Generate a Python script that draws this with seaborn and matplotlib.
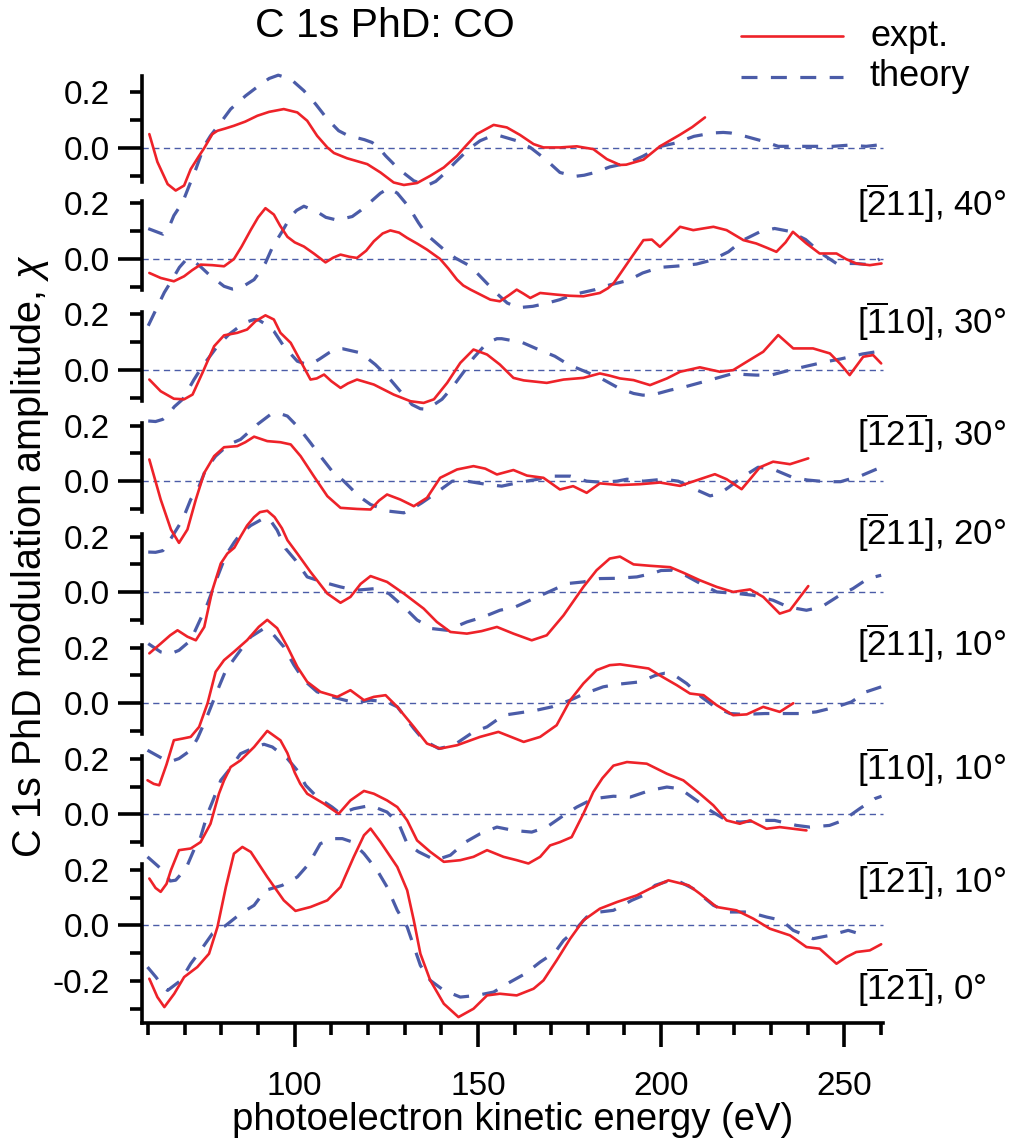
import matplotlib
matplotlib.use("Agg")
import matplotlib.pyplot as plt
from matplotlib.lines import Line2D
import pandas as pd
import seaborn as sns

# C 1s photoelectron diffraction of CO: (kinetic energy / eV, chi) pairs per panel
p1_expt = [(60.3, 0.05), (62.5, -0.05), (65.3, -0.13), (67.5, -0.153), (69.8, -0.135), (71.6, -0.076),
           (73.9, -0.028), (75.3, 0.0), (77.5, 0.05), (78.9, 0.062), (81, 0.07), (83.4, 0.08), (86.5, 0.095),
           (89.8, 0.116), (93, 0.13), (97, 0.14), (100.7, 0.128), (103.4, 0.098), (106.1, 0.044), (108.9, 0.002),
           (110.7, -0.018), (114.3, -0.037), (119.8, -0.058), (123.4, -0.088), (127, -0.124), (129.8, -0.133),
           (133.4, -0.126), (137, -0.1), (140.7, -0.07), (144.3, -0.028), (146.6, 0.006), (149.7, 0.05),
           (154.3, 0.083), (157.9, 0.074), (161.5, 0.047), (165.2, 0.014), (167.9, 0.002), (172.4, 0.002),
           (177, 0.006), (181.5, -0.004), (185.2, -0.04), (188.8, -0.061), (190.5, -0.06), (195.2, -0.042),
           (199.7, 0.006), (205.2, 0.048), (208.5, 0.075), (212, 0.11)]
p1_theory = [(60, -0.29), (62, -0.3), (64, -0.31), (65.5, -0.29), (67, -0.243), (69.4, -0.195), (71.2, -0.135),
             (73, -0.076), (75.3, 0.008), (77, 0.044), (79.8, 0.092), (82.5, 0.14), (86.6, 0.188), (90.2, 0.224),
             (93, 0.25), (95.5, 0.262), (98.9, 0.248), (102.5, 0.206), (105.7, 0.158), (108.9, 0.104), (112, 0.062),
             (114.5, 0.045), (116.6, 0.038), (119, 0.03), (121.1, 0.02), (123, 0.0), (124.8, -0.028), (128.4, -0.076),
             (132.5, -0.118), (136.1, -0.135), (138.5, -0.12), (140.7, -0.094), (143.8, -0.052), (147.5, -0.004),
             (150.6, 0.026), (153.5, 0.042), (156, 0.044), (160.6, 0.026), (164.3, 0.002), (168.4, -0.04),
             (172.4, -0.088), (176.5, -0.102), (179, -0.098), (182, -0.088), (186, -0.068), (191, -0.054),
             (195, -0.03), (200, 0.006), (204, 0.018), (209, 0.042), (214, 0.054), (217, 0.056), (219, 0.054),
             (223, 0.042), (228, 0.024), (232, 0.006), (237.5, 0.006), (241.5, 0.006), (247, 0.006), (251, 0.01),
             (256, 0.006), (260, 0.012)]

p2_expt = [(60.3, -0.05), (63.4, -0.068), (67, -0.08), (69.8, -0.062), (72, -0.04), (74.3, -0.02), (77.5, -0.022),
           (80.7, -0.026), (83.4, 0.0), (85.5, 0.045), (88, 0.105), (90, 0.15), (92, 0.183), (94.3, 0.16), (96, 0.12),
           (98, 0.08), (100, 0.06), (102.5, 0.045), (105.2, 0.02), (108.4, -0.012), (110.5, 0.005), (112.5, 0.016),
           (115, 0.008), (117, 0.004), (119.5, 0.03), (121.6, 0.064), (124, 0.092), (126.1, 0.103), (128.5, 0.095),
           (130.7, 0.076), (133.5, 0.055), (136.1, 0.034), (139.7, 0.0), (142, -0.035), (144.3, -0.074),
           (146, -0.095), (148, -0.11), (151, -0.13), (153.4, -0.146), (156, -0.152), (158.5, -0.13),
           (160.6, -0.11), (162.5, -0.125), (164.3, -0.14), (167, -0.122), (171.5, -0.128), (175, -0.132),
           (178.8, -0.134), (183.3, -0.122), (185.5, -0.105), (187, -0.088), (189, -0.05), (191.6, 0.0),
           (195.2, 0.068), (197.5, 0.07), (199.7, 0.044), (202.5, 0.08), (205.2, 0.116), (208.8, 0.104),
           (211.5, 0.11), (214.3, 0.116), (217.9, 0.104), (222.5, 0.068), (226, 0.056), (229, 0.04), (231.5, 0.026),
           (234, 0.06), (236, 0.098), (239.7, 0.056), (243.3, 0.02), (247.9, 0.02), (250.5, 0.0), (253.3, -0.016),
           (257, -0.022), (260.2, -0.016)]
p2_theory = [(60, -0.24), (62, -0.185), (64.4, -0.12), (66.5, -0.075), (68.5, -0.03), (70.5, 0.0), (72.5, -0.008),
             (74.5, -0.03), (76.6, -0.056), (80.7, -0.098), (83, -0.108), (85.2, -0.104), (88.9, -0.074),
             (90.5, -0.045), (92, -0.014), (94, 0.045), (96.6, 0.1), (98.9, 0.153), (100.5, 0.175), (102.5, 0.19),
             (106.1, 0.17), (108.5, 0.15), (111.6, 0.14), (115.7, 0.153), (118, 0.175), (119.8, 0.195),
             (123.4, 0.237), (125.7, 0.255), (128, 0.237), (131, 0.19), (133.8, 0.13), (136, 0.088), (140.2, 0.04),
             (143.8, 0.004), (148, -0.026), (151.5, -0.074), (155, -0.122), (158, -0.158), (161, -0.175),
             (165, -0.17), (168.5, -0.16), (172.4, -0.146), (176, -0.128), (182, -0.11), (186, -0.093),
             (191, -0.077), (195, -0.05), (199.7, -0.03), (204.7, -0.025), (209.7, -0.018), (213.8, -0.004),
             (218.4, 0.026), (222.4, 0.068), (227, 0.098), (231, 0.11), (235, 0.1), (239.5, 0.07), (243.8, 0.02),
             (247.9, -0.016), (253, -0.016), (257, -0.02), (259.7, 0.0)]

p3_expt = [(60.3, -0.034), (63.4, -0.076), (67, -0.103), (69.8, -0.105), (72.1, -0.088), (74.8, -0.01),
           (78, 0.086), (80.7, 0.125), (84.3, 0.134), (87, 0.146), (89.3, 0.176), (92, 0.197), (94.3, 0.182),
           (96.1, 0.134), (98.9, 0.098), (101.6, 0.032), (104.3, -0.034), (106, -0.03), (108, -0.016), (110, -0.04),
           (112.5, -0.064), (114.5, -0.048), (117, -0.034), (121.6, -0.052), (127, -0.088), (131.6, -0.112),
           (135.2, -0.118), (138, -0.105), (141.6, -0.046), (145.2, 0.026), (148.8, 0.074), (152.5, 0.056),
           (156, 0.02), (159.7, -0.028), (162.5, -0.037), (168.8, -0.046), (173.4, -0.034), (178.8, -0.028),
           (183.3, -0.012), (186, -0.02), (188.8, -0.03), (192.5, -0.036), (197, -0.054), (201.6, -0.03),
           (205.2, -0.006), (210.6, 0.01), (216.1, -0.006), (219.7, 0.0), (223.4, 0.03), (227.9, 0.066),
           (232, 0.126), (236.1, 0.078), (241.5, 0.078), (246.1, 0.06), (248.8, 0.024), (251.5, -0.018),
           (255.2, 0.048), (257.9, 0.054), (260.1, 0.024)]
p3_theory = [(60, -0.183), (62, -0.185), (64, -0.177), (65.5, -0.16), (67.1, -0.132), (69.4, -0.105),
             (72.5, -0.034), (74.8, 0.014), (78.9, 0.086), (82, 0.128), (86.2, 0.17), (88.9, 0.182), (90.2, 0.18),
             (92, 0.165), (94.3, 0.14), (97, 0.086), (100.7, 0.032), (102.5, 0.024), (104.3, 0.02), (106.8, 0.04),
             (109.3, 0.062), (111.6, 0.077), (113, 0.077), (118, 0.062), (122, 0.02), (125.7, -0.028),
             (128.8, -0.076), (132, -0.124), (134.3, -0.139), (136.1, -0.141), (140.2, -0.105), (142.9, -0.064),
             (146.6, 0.002), (148.8, 0.044), (152.5, 0.098), (155.2, 0.113), (156.5, 0.113), (162, 0.1),
             (166, 0.077), (171, 0.05), (174.7, 0.02), (180.2, -0.01), (183.8, -0.031), (188.5, -0.065),
             (192.5, -0.084), (195, -0.09), (197.5, -0.09), (202.5, -0.072), (206.6, -0.06), (211.6, -0.042),
             (216.5, -0.024), (219.7, -0.012), (223, -0.016), (226, -0.018), (230, -0.018), (235.2, 0.0),
             (239.7, 0.014), (245, 0.03), (249, 0.04), (255, 0.058), (258.8, 0.066), (260.3, 0.068)]

p4_expt = [(60.3, 0.078), (63.4, -0.066), (66.2, -0.174), (68.4, -0.222), (70.7, -0.174), (73, -0.066),
           (75.3, 0.03), (78, 0.09), (80.7, 0.122), (84.3, 0.126), (86.5, 0.14), (88.9, 0.16), (92.5, 0.144),
           (96.1, 0.14), (98.9, 0.132), (101.6, 0.09), (105.2, 0.018), (108.9, -0.054), (112.5, -0.096),
           (117, -0.1), (120.7, -0.102), (123, -0.07), (125.2, -0.048), (128.8, -0.066), (132.5, -0.09),
           (136.1, -0.06), (139.7, 0.012), (144.3, 0.042), (148.8, 0.054), (152, 0.045), (155.2, 0.024),
           (159.7, 0.04), (163.4, 0.02), (167.9, 0.012), (172.4, -0.03), (176, -0.018), (179.7, -0.042),
           (183.3, -0.008), (188.8, -0.014), (194.3, -0.011), (199.7, -0.005), (205.2, -0.017), (210.6, 0.007),
           (214.7, 0.025), (217.9, 0.007), (222, -0.029), (224.3, 0.007), (227, 0.05), (230.6, 0.07),
           (235.2, 0.061), (240.2, 0.082)]
p4_theory = [(60, -0.255), (62, -0.256), (64, -0.25), (66.6, -0.198), (69.4, -0.138), (71.6, -0.066),
             (73.9, -0.018), (75.7, 0.042), (78.4, 0.09), (82, 0.132), (85.2, 0.15), (89.8, 0.204), (93.4, 0.24),
             (95.5, 0.245), (98, 0.234), (101.1, 0.192), (104.3, 0.138), (107, 0.09), (110.2, 0.036), (113.4, 0.0),
             (117.5, -0.054), (120.7, -0.084), (125.7, -0.108), (129.8, -0.114), (132, -0.1), (134.7, -0.078),
             (138, -0.048), (143, 0.0), (147, 0.0), (152.5, -0.012), (156.5, -0.018), (161.5, -0.004), (166, 0.006),
             (170.6, 0.018), (175.2, 0.018), (179.7, 0.0), (183.8, -0.004), (188, 0.0), (190.7, 0.007),
             (195.2, 0.0), (200.7, 0.007), (204.7, 0.0), (209.3, -0.029), (213.4, -0.053), (216, -0.045),
             (218.4, -0.023), (222, 0.013), (226.5, 0.05), (230.6, 0.043), (236, 0.013), (240, 0.004),
             (245, -0.002), (249, -0.002), (254.7, 0.02), (258.8, 0.043), (260.3, 0.05)]

p5_expt = [(60.3, -0.22), (63.4, -0.185), (66, -0.155), (68, -0.137), (70.7, -0.16), (73, -0.173),
           (75.3, -0.125), (77.5, 0.007), (79.8, 0.103), (81.6, 0.139), (83.5, 0.16), (85.2, 0.2), (87, 0.24),
           (88.9, 0.27), (90.5, 0.288), (92.5, 0.293), (94.5, 0.27), (96.5, 0.23), (98, 0.187), (100.7, 0.139),
           (104.3, 0.073), (108.9, -0.005), (112.5, -0.038), (115.2, -0.017), (118, 0.03), (120.7, 0.058),
           (125.2, 0.037), (129.8, -0.005), (135.2, -0.059), (138.8, -0.107), (142.5, -0.143), (147, -0.149),
           (151, -0.14), (155.2, -0.125), (159.7, -0.149), (164.7, -0.173), (168.8, -0.155), (173.4, -0.083),
           (178.8, 0.019), (182.4, 0.079), (186, 0.121), (188.8, 0.128), (192.5, 0.1), (197, 0.095),
           (202.5, 0.09), (206.1, 0.07), (210.6, 0.043), (215.2, 0.019), (219.7, 0.001), (224.3, 0.01),
           (227.9, -0.017), (232.4, -0.077), (235.2, -0.065), (240.2, 0.022)]
p5_theory = [(60, -0.185), (63.4, -0.215), (66, -0.222), (68.4, -0.209), (71.6, -0.173), (73.9, -0.107),
             (76.2, -0.041), (78.9, 0.055), (81.2, 0.133), (83.5, 0.18), (85.2, 0.21), (88, 0.24), (91, 0.262),
             (93, 0.265), (95.2, 0.223), (97.5, 0.157), (100.2, 0.115), (103.4, 0.055), (107.5, 0.037),
             (112.5, 0.019), (116.6, 0.007), (122, 0.013), (125.7, -0.005), (129.8, -0.053), (133.4, -0.1),
             (137.5, -0.131), (141.6, -0.137), (147, -0.107), (151.5, -0.089), (156, -0.065), (160.2, -0.053),
             (165.2, -0.023), (169.3, 0.001), (174.3, 0.031), (178.8, 0.037), (183.3, 0.049), (188, 0.05),
             (193.4, 0.055), (197.5, 0.067), (200, 0.078), (203, 0.079), (206.6, 0.061), (211.6, 0.025),
             (215.2, 0.001), (221, -0.005), (225.2, -0.011), (230.6, -0.029), (234.7, -0.053), (239.7, -0.065),
             (243.8, -0.053), (248.8, -0.011), (252.4, 0.013), (256.5, 0.049), (260.1, 0.061)]

p6_expt = [(59.8, -0.277), (61.5, -0.29), (63, -0.295), (65, -0.22), (67, -0.133), (69.4, -0.127),
           (71.6, -0.121), (73.9, -0.085), (76.2, 0.0), (78.4, 0.113), (80.7, 0.155), (83.4, 0.185), (87, 0.227),
           (90.2, 0.275), (92.5, 0.3), (95.2, 0.27), (98, 0.203), (100.7, 0.131), (103.4, 0.077), (107, 0.041),
           (111.6, 0.023), (115.2, 0.047), (118.9, 0.011), (121.6, 0.023), (124.8, 0.029), (128, -0.013),
           (132.5, -0.085), (136.1, -0.145), (139.7, -0.163), (144.3, -0.151), (150.6, -0.121), (155.6, -0.103),
           (157.9, -0.115), (162.5, -0.139), (167, -0.121), (171.5, -0.079), (175.2, 0.011), (178.8, 0.071),
           (182.4, 0.119), (186, 0.137), (188.8, 0.14), (192.5, 0.133), (196.6, 0.125), (199.7, 0.1),
           (204.3, 0.065), (207.9, 0.035), (211.6, 0.029), (215.2, -0.007), (219.7, -0.043), (223.4, -0.04),
           (227.9, -0.013), (232.4, -0.031), (236.1, 0.0)]
p6_theory = [(59.8, -0.169), (63.9, -0.199), (66, -0.21), (68.4, -0.199), (71.6, -0.169), (73.5, -0.125),
             (76, -0.05), (79.3, 0.059), (81.2, 0.119), (85.2, 0.191), (88, 0.239), (91.6, 0.269), (93.9, 0.251),
             (97, 0.203), (99.8, 0.137), (102.5, 0.083), (106.1, 0.041), (110.2, 0.023), (116.6, 0.001),
             (120.7, 0.011), (125.2, 0.005), (128, -0.013), (132.5, -0.091), (135.2, -0.133), (139.3, -0.163),
             (143.4, -0.151), (148.8, -0.103), (152.5, -0.085), (157, -0.043), (161.1, -0.035), (166, -0.025),
             (170.2, -0.013), (175.2, 0.011), (179.2, 0.035), (184.2, 0.059), (188, 0.068), (194.3, 0.077),
             (198.4, 0.1), (201, 0.108), (203, 0.107), (207, 0.071), (211, 0.023), (214.7, -0.013),
             (218.8, -0.037), (222.5, -0.04), (228.4, -0.037), (232.9, -0.037), (237.9, -0.037), (242.4, -0.031),
             (247.9, -0.013), (252, 0.005), (256, 0.041), (260.1, 0.059)]

p7_expt = [(60.3, -0.231), (62, -0.265), (63.4, -0.279), (65, -0.25), (66.2, -0.201), (68.4, -0.129),
           (71.6, -0.123), (74.3, -0.1), (77, -0.034), (79.3, 0.074), (80.7, 0.122), (82.5, 0.17), (85.2, 0.194),
           (88.9, 0.242), (92.5, 0.3), (96.1, 0.266), (98, 0.22), (100, 0.15), (101.5, 0.11), (103.4, 0.074),
           (108, 0.038), (112, 0.002), (115.2, 0.05), (118.9, 0.084), (121.6, 0.074), (125.2, 0.05), (128, 0.026),
           (130.7, -0.022), (133.4, -0.094), (137, -0.135), (140.7, -0.171), (145.2, -0.165), (148.8, -0.153),
           (152.5, -0.129), (157, -0.153), (160.6, -0.165), (163.8, -0.177), (167, -0.153), (169.7, -0.112),
           (172.4, -0.1), (175.6, -0.082), (178.8, 0.002), (181.5, 0.08), (184, 0.13), (187, 0.175),
           (190.7, 0.188), (196.1, 0.182), (201.6, 0.146), (206.1, 0.122), (210.6, 0.074), (214.3, 0.032),
           (217.9, -0.022), (221.5, -0.034), (224.3, -0.022), (228.8, -0.052), (232.4, -0.046), (239.7, -0.058)]
p7_theory = [(59.8, -0.153), (63.4, -0.195), (66, -0.24), (67.5, -0.237), (70.3, -0.195), (73, -0.112),
             (74.3, -0.082), (76.2, 0.002), (77.5, 0.044), (79.8, 0.122), (82, 0.158), (85.2, 0.218), (89.3, 0.242),
             (91.6, 0.252), (93.9, 0.242), (98, 0.2), (100.7, 0.158), (103, 0.104), (106.1, 0.062), (110.2, 0.026),
             (112.5, 0.002), (116.1, 0.02), (120.7, 0.032), (125.2, 0.008), (128.4, -0.034), (130.7, -0.106),
             (133.8, -0.135), (138.4, -0.165), (142.5, -0.147), (146.6, -0.1), (150.6, -0.07), (155.2, -0.046),
             (159.7, -0.058), (164.7, -0.064), (168.8, -0.046), (173.4, -0.004), (177, 0.026), (181.5, 0.056),
             (187, 0.065), (191.6, 0.062), (197, 0.086), (201.6, 0.098), (205.2, 0.092), (209.7, 0.05),
             (213.4, 0.014), (217.9, -0.022), (221.5, -0.028), (227, -0.022), (231, -0.022), (237, -0.04),
             (240.6, -0.046), (246, -0.04), (249.7, -0.022), (254.2, 0.02), (258.3, 0.056), (260.2, 0.065)]

p8_expt = [(60.3, -0.192), (62.5, -0.258), (64.4, -0.294), (67.1, -0.246), (69.8, -0.186), (73.4, -0.15),
           (76.6, -0.102), (78.9, -0.006), (81.2, 0.138), (83.4, 0.258), (85.7, 0.282), (88, 0.264), (92.5, 0.174),
           (97, 0.09), (100.2, 0.052), (104.3, 0.066), (108.9, 0.09), (112.5, 0.138), (116.1, 0.246),
           (118.9, 0.324), (120.7, 0.348), (123.4, 0.3), (128, 0.21), (130.7, 0.126), (132.5, 0.018),
           (134.3, -0.102), (137, -0.198), (140.7, -0.282), (144.7, -0.33), (148.8, -0.3), (152.5, -0.252),
           (156, -0.246), (160.6, -0.252), (165.2, -0.228), (167.9, -0.198), (171.5, -0.126), (175.2, -0.048),
           (178.8, 0.018), (183.3, 0.06), (188, 0.084), (193.4, 0.108), (197, 0.132), (202, 0.162),
           (207.5, 0.144), (210.6, 0.114), (215.2, 0.066), (220.6, 0.054), (225.2, 0.024), (229.7, -0.012),
           (235.2, -0.036), (239.7, -0.078), (243.3, -0.084), (247.9, -0.138), (250.6, -0.114), (253.3, -0.096),
           (257, -0.09), (260.1, -0.068)]
p8_theory = [(59.8, -0.15), (62.1, -0.186), (64, -0.22), (65.3, -0.234), (68.9, -0.198), (71.6, -0.138),
             (74.3, -0.09), (77.5, -0.03), (81.2, 0.0), (85.2, 0.042), (88.9, 0.072), (92, 0.126), (96.6, 0.144),
             (100.7, 0.174), (103.9, 0.222), (107, 0.294), (110.7, 0.312), (113, 0.312), (115.7, 0.3),
             (118.9, 0.258), (122.5, 0.198), (125.2, 0.138), (128, 0.054), (130.7, -0.006), (134.3, -0.144),
             (137, -0.198), (140.7, -0.234), (145.2, -0.258), (149.7, -0.252), (154.3, -0.24), (158.8, -0.204),
             (162.9, -0.174), (167, -0.132), (171.1, -0.096), (173.4, -0.054), (176, -0.024), (179.7, 0.03),
             (183.3, 0.048), (187, 0.054), (192, 0.09), (195.2, 0.108), (198.4, 0.144), (202.5, 0.162),
             (205.2, 0.156), (208.8, 0.132), (214.3, 0.072), (218.4, 0.048), (223.8, 0.048), (228.8, 0.03),
             (232.9, 0.018), (236.1, -0.018), (241.5, -0.048), (246.1, -0.036), (251.1, -0.018), (255.6, -0.036)]

panel_labels = [r"$[\overline{2}11]$, 40°", r"$[\overline{1}10]$, 30°", r"$[\overline{1}2\overline{1}]$, 30°",
                r"$[\overline{2}11]$, 20°", r"$[\overline{2}11]$, 10°", r"$[\overline{1}10]$, 10°",
                r"$[\overline{1}2\overline{1}]$, 10°", r"$[\overline{1}2\overline{1}]$, 0°"]
expt_series = [p1_expt, p2_expt, p3_expt, p4_expt, p5_expt, p6_expt, p7_expt, p8_expt]
theory_series = [p1_theory, p2_theory, p3_theory, p4_theory, p5_theory, p6_theory, p7_theory, p8_theory]
x_major = [100, 150, 200, 250]
x_minor = [e for e in range(60, 261, 10) if e not in x_major]

sns.set_theme(style="ticks")
plt.rcParams["font.family"] = ["Liberation Sans", "DejaVu Sans"]
plt.rcParams["mathtext.fontset"] = "custom"
plt.rcParams["mathtext.rm"] = "Liberation Sans"
plt.rcParams["mathtext.it"] = "Liberation Sans:italic"
plt.rcParams["mathtext.bf"] = "Liberation Sans:bold"
plt.rcParams["axes.linewidth"] = 2.6

RED = "#ee2229"
BLUE = "#4b5ca8"
W, H = 1010, 1138
fig = plt.figure(figsize=(W / 100, H / 100), dpi=100)

# pixel layout of the stacked panels
X_LEFT, X_RIGHT = 142, 883
SCALE = 278.0            # pixels per unit of chi
ZERO_TOP, STEP = 148.0, 111.05
TICK_FS = 24

n = len(expt_series)
for i in range(n):
    zero = ZERO_TOP + STEP * i
    lo = -0.35 if i == n - 1 else -0.2
    hi = 0.27 if i == 0 else 0.2
    top_px = zero - hi * SCALE
    bot_px = zero - lo * SCALE
    ax = fig.add_axes([X_LEFT / W, 1 - bot_px / H, (X_RIGHT - X_LEFT) / W, (bot_px - top_px) / H])
    ax.patch.set_visible(False)
    ax.set_xlim(58.3, 260.6)
    ax.set_ylim(lo, hi)

    ax.axhline(0, color=BLUE, lw=1.0, ls=(0, (4.5, 3.2)), zorder=1)

    th = pd.DataFrame(theory_series[i], columns=["energy", "chi"])
    ex = pd.DataFrame(expt_series[i], columns=["energy", "chi"])
    sns.lineplot(data=th, x="energy", y="chi", ax=ax, color=BLUE, lw=2.3,
                 estimator=None, sort=False, legend=False)
    ax.lines[-1].set_linestyle((0, (5.0, 4.2)))
    sns.lineplot(data=ex, x="energy", y="chi", ax=ax, color=RED, lw=1.9,
                 estimator=None, sort=False, legend=False)
    for ln in ax.lines:
        ln.set_clip_on(False)
        ln.set_solid_joinstyle("round")
        ln.set_dash_joinstyle("round")

    for s in ("top", "right"):
        ax.spines[s].set_visible(False)
    if i == 0:
        ax.spines["left"].set_bounds(-0.122, 0.26)
    elif i == n - 1:
        ax.spines["left"].set_bounds(-0.35, 0.222)
    else:
        ax.spines["left"].set_bounds(-0.11, 0.208)
    ax.spines["left"].set_color("black")

    ax.set_yticks([0.0], labels=["0.0"])
    if i == n - 1:
        ax.set_yticks([-0.3, -0.2, -0.1, 0.1, 0.2], labels=["", "-0.2", "", "", "0.2"], minor=True)
    else:
        ax.set_yticks([-0.1, 0.1, 0.2], labels=["", "", "0.2"], minor=True)
    ax.tick_params(axis="y", which="major", direction="out", length=17, width=2.6, pad=6,
                   labelsize=TICK_FS, color="black", labelcolor="black")
    ax.tick_params(axis="y", which="minor", direction="out", length=8.6, width=2.6, pad=14.5,
                   labelsize=TICK_FS, color="black", labelcolor="black")
    ax.set_xlabel("")
    ax.set_ylabel("")

    if i == n - 1:
        ax.spines["bottom"].set_color("black")
        ax.set_xticks(x_major, labels=[str(v) for v in x_major])
        ax.set_xticks(x_minor, minor=True)
        ax.tick_params(axis="x", which="major", direction="out", length=17.5, width=2.6, pad=17,
                       labelsize=TICK_FS, color="black", labelcolor="black")
        ax.tick_params(axis="x", which="minor", direction="out", length=8.6, width=2.6,
                       color="black")
    else:
        ax.spines["bottom"].set_visible(False)
        ax.tick_params(axis="x", which="both", bottom=False, labelbottom=False)

# panel captions, left aligned on the right-hand side
label_y = [203, 321, 433, 532, 643, 767, 880, 987]
for text, y in zip(panel_labels, label_y):
    fig.text(857 / W, 1 - y / H, text, ha="left", va="center", fontsize=25, color="black")

# title, axis titles
fig.text(385 / W, 1 - 26 / H, "C 1s PhD: CO", ha="center", va="center", fontsize=29.5, color="black")
fig.text(30 / W, 1 - 556 / H, r"C 1s PhD modulation amplitude, $\chi$", rotation=90,
         ha="center", va="center", fontsize=28.5, color="black")
fig.text(513 / W, 1 - 1120 / H, "photoelectron kinetic energy (eV)", ha="center", va="center",
         fontsize=27.5, color="black")

# key
fig.add_artist(Line2D([741 / W, 843 / W], [1 - 36 / H] * 2, color=RED, lw=1.9))
fig.add_artist(Line2D([741 / W, 843 / W], [1 - 77 / H] * 2, color=BLUE, lw=2.3, ls=(0, (5.0, 4.2))))
fig.text(870 / W, 1 - 36 / H, "expt.", ha="left", va="center", fontsize=26, color="black")
fig.text(870 / W, 1 - 77 / H, "theory", ha="left", va="center", fontsize=26, color="black")

fig.savefig("out.png", dpi=100)
